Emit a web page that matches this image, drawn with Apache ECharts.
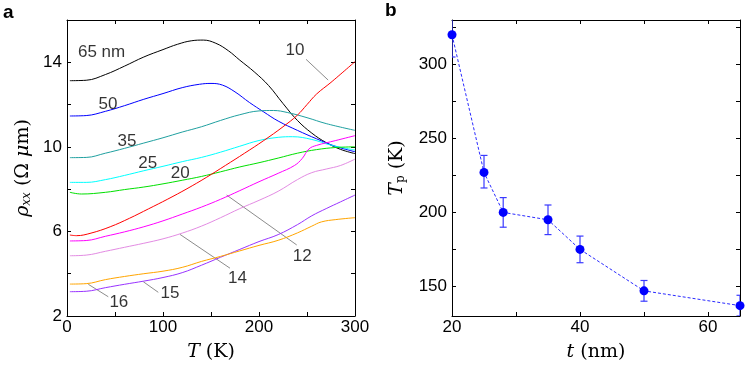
<!DOCTYPE html>
<html><head><meta charset="utf-8">
<script src="https://cdn.jsdelivr.net/npm/echarts@6/dist/echarts.min.js"></script>
<style>html,body{margin:0;padding:0;background:#fff}#c{width:747px;height:370px}</style>
</head><body><div id="c"></div>
<script>
// ---- Panel a: resistivity vs temperature, one curve per thickness ----
const thicknesses = ['65','50','35','25','20','10','12','14','15','16'];
const curveColors = ['#000000','#0000ff','#1fa0a0','#00ffff','#00e000','#ff0000','#ff00ff','#e38be3','#9933ff','#ffa500'];
const rho65 = [[3,13.13],[20,13.15],[40,13.42],[60,13.82],[80,14.25],[100,14.6],[115,14.85],[130,15.02],[142,15.05],[155,14.9],[168,14.55],[180,14.1],[195,13.55],[210,12.9],[225,12.05],[240,11.25],[255,10.65],[270,10.2],[285,9.88],[300,9.68]];
const rho50 = [[3,11.46],[20,11.48],[40,11.68],[60,11.95],[80,12.25],[100,12.52],[120,12.8],[138,12.96],[150,13.0],[162,12.92],[175,12.6],[190,12.1],[205,11.65],[220,11.22],[240,10.78],[260,10.38],[280,10.02],[300,9.77]];
const rho35 = [[3,9.49],[20,9.5],[40,9.7],[60,9.93],[80,10.18],[100,10.43],[120,10.7],[140,10.95],[160,11.25],[180,11.52],[200,11.7],[215,11.72],[230,11.62],[250,11.38],[270,11.1],[300,10.78]];
const rho25 = [[3,8.32],[20,8.32],[40,8.45],[60,8.65],[80,8.87],[100,9.08],[120,9.3],[140,9.5],[160,9.75],[180,10.03],[200,10.3],[220,10.45],[235,10.48],[255,10.35],[275,10.08],[300,9.85]];
const rho20 = [[3,7.85],[15,7.77],[40,7.85],[60,7.98],[80,8.1],[100,8.25],[120,8.42],[140,8.6],[160,8.82],[180,9.05],[200,9.25],[220,9.47],[240,9.7],[260,9.87],[280,9.97],[300,10.0]];
const rho10 = [[3,5.83],[10,5.8],[25,5.92],[45,6.22],[65,6.62],[85,7.07],[105,7.53],[125,8.02],[145,8.55],[165,9.12],[185,9.7],[205,10.3],[225,10.95],[240,11.5],[250,12.0],[260,12.5],[275,13.05],[300,14.03]];
const rho12 = [[3,5.55],[20,5.57],[40,5.77],[60,5.98],[80,6.22],[100,6.5],[120,6.82],[140,7.15],[160,7.52],[180,7.93],[200,8.35],[220,8.75],[237,9.12],[245,9.45],[252,9.9],[260,10.07],[280,10.3],[300,10.53]];
const rho14 = [[3,4.85],[20,4.88],[40,5.06],[60,5.25],[80,5.44],[100,5.65],[120,5.92],[140,6.25],[160,6.65],[180,7.08],[200,7.47],[220,7.9],[240,8.45],[255,8.78],[270,8.95],[285,9.12],[300,9.42]];
const rho15 = [[3,3.15],[20,3.17],[40,3.34],[60,3.5],[80,3.65],[100,3.82],[120,4.05],[140,4.4],[160,4.78],[180,5.15],[200,5.52],[220,5.85],[240,6.32],[255,6.74],[270,7.08],[285,7.4],[300,7.72]];
const rho16 = [[3,3.51],[20,3.53],[40,3.72],[60,3.87],[80,4.0],[100,4.12],[120,4.3],[140,4.58],[160,4.82],[180,5.08],[200,5.34],[220,5.58],[240,5.93],[255,6.25],[265,6.45],[280,6.56],[300,6.65]];
const curves = [rho65, rho50, rho35, rho25, rho20, rho10, rho12, rho14, rho15, rho16];

// curve labels [T, rho, text]
const curveLabels = [[36,14.49,'65 nm'],[42.7,12.03,'50'],[62.5,10.28,'35'],[84,9.21,'25'],[118,8.76,'20'],[237.5,14.58,'10'],[245,4.81,'12'],[177.6,3.77,'14'],[107.3,3.06,'15'],[54,2.64,'16']];
// leader lines [[T1,rho1],[T2,rho2]]
const leaders = [[[249,14.14],[272,13.16]],[[166.3,7.72],[239.3,5.36]],[[117.7,5.86],[169.8,4.26]],[[79.5,3.62],[95.1,3.12]],[[22.2,3.5],[43,2.91]]];
const rhoTickLabels = [2,6,10,14];
const TTickLabels = [0,100,200,300];

// ---- Panel b: peak temperature vs thickness ----
const tVals = [20,25,28,35,40,50,65];
const TpVals = [320,227,200,195,175,147,137];
const TpLow = [305,216.5,190,185,166,140,130];
const TpHigh = [335,238.5,210,205,184,154,144];
const tTickLabels = [20,40,60];
const TpTicks = [150,175,200,225,250,275,300,325];
const TpTickLabels = [150,200,250,300];

const serif = 'DejaVu Serif';
const sans = 'Liberation Sans';
const black = '#000';

function boxAxes(gridIndex, min, max, interval, isX, labelList, extra) {
  const base = {
    gridIndex, type:'value', min, max,
    axisLine:{show:true, onZero:false, lineStyle:{color:black, width:1}},
    axisTick:{show:true, inside:true, length:4, lineStyle:{color:black}},
    splitLine:{show:false},
    axisLabel:{show:!!labelList, color:black, fontFamily:sans, fontSize:17, margin:isX?3:5,
      showMinLabel:true, showMaxLabel:true,
      formatter: v => (labelList && labelList.indexOf(Math.round(v)) >= 0) ? String(Math.round(v)) : ''}
  };
  if (interval != null) base.interval = interval;
  return Object.assign(base, extra||{});
}

const chart = echarts.init(document.getElementById('c'));
const series = [];
curves.forEach((c,i)=>{
  series.push({type:'line', name:thicknesses[i], xAxisIndex:0, yAxisIndex:0, data:c, smooth:0.4,
    showSymbol:false, symbol:'none', lineStyle:{color:curveColors[i], width:1}, z:3, silent:true});
});
series.push({type:'lines', coordinateSystem:'cartesian2d', xAxisIndex:0, yAxisIndex:0,
  data: leaders.map(l=>({coords:l})), lineStyle:{color:'#8c8c8c', width:1, opacity:1}, z:2, silent:true});
series.push({type:'scatter', xAxisIndex:0, yAxisIndex:0, data:curveLabels, symbolSize:1,
  itemStyle:{color:'rgba(0,0,0,0)'}, z:5, silent:true,
  label:{show:true, position:'inside', formatter:p=>p.value[2], color:black, fontFamily:sans, fontSize:17}});

// panel b
series.push({type:'line', xAxisIndex:2, yAxisIndex:2, data:tVals.map((t,i)=>[t,TpVals[i]]),
  symbol:'circle', symbolSize:9, itemStyle:{color:'#0000ff'}, lineStyle:{color:'#2a2aff', width:1, type:[3,2]}, z:4, silent:true, clip:false});
series.push({type:'custom', xAxisIndex:2, yAxisIndex:2, z:3, silent:true,
  data: tVals.map((t,i)=>[t,TpLow[i],TpHigh[i]]),
  renderItem:function(params, api){
    const lo = api.coord([api.value(0), api.value(1)]);
    const hi = api.coord([api.value(0), api.value(2)]);
    const w = 3.5, st={stroke:'#3a3aff', lineWidth:1.2};
    const cs = params.coordSys;
    return {type:'group', clipPath:{type:'rect', shape:{x:cs.x, y:cs.y, width:cs.width, height:cs.height}}, children:[
      {type:'line', shape:{x1:lo[0],y1:lo[1],x2:hi[0],y2:hi[1]}, style:st},
      {type:'line', shape:{x1:lo[0]-w,y1:lo[1],x2:lo[0]+w,y2:lo[1]}, style:st},
      {type:'line', shape:{x1:hi[0]-w,y1:hi[1],x2:hi[0]+w,y2:hi[1]}, style:st}
    ]};
  }});

const nameStyle = {color:black, fontFamily:serif, fontSize:19,
  rich:{i:{fontStyle:'italic', fontFamily:serif, fontSize:19, color:black},
        n:{fontFamily:serif, fontSize:19, color:black},
        s:{fontStyle:'italic', fontFamily:serif, fontSize:12, color:black, padding:[8,0,0,0]},
        r:{fontFamily:serif, fontSize:12, color:black, padding:[8,0,0,0]}}};

const option = {
  animation:false,
  backgroundColor:'#fff',
  grid:[{left:67, top:20, width:288, height:296},{left:452, top:20, width:288, height:296}],
  xAxis:[
    boxAxes(0,0,300,50,true,TTickLabels,{position:'bottom', name:'{i|T} {n|(K)}', nameLocation:'middle', nameGap:27, nameTextStyle:nameStyle}),
    boxAxes(0,0,300,50,true,null,{position:'top'}),
    boxAxes(1,20,65,10,true,tTickLabels,{position:'bottom', name:'{i|t} {n|(nm)}', nameLocation:'middle', nameGap:27, nameTextStyle:nameStyle}),
    boxAxes(1,20,65,10,true,null,{position:'top'})
  ],
  yAxis:[
    boxAxes(0,2,16,2,false,rhoTickLabels,{position:'left', name:'{i|ρ}{s|xx} {n|(Ω }{i|μ}{n|m)}', nameLocation:'middle', nameGap:34, nameTextStyle:nameStyle}),
    boxAxes(0,2,16,2,false,null,{position:'right'}),
    (function(){const a=boxAxes(1,130,330,null,false,TpTickLabels,{position:'left', name:'{i|T}{r|p} {n|(K)}', nameLocation:'middle', nameGap:45, nameTextStyle:nameStyle});
      a.axisTick.customValues=TpTicks; a.axisLabel.customValues=TpTickLabels; return a;})(),
    (function(){const a=boxAxes(1,130,330,null,false,null,{position:'right'});
      a.axisTick.customValues=TpTicks; return a;})()
  ],
  graphic:[
    {type:'text', left:3, top:3, style:{text:'a', fontFamily:sans, fontWeight:'bold', fontSize:19, fill:black}},
    {type:'text', left:385, top:1, style:{text:'b', fontFamily:sans, fontWeight:'bold', fontSize:19, fill:black}}
  ],
  series
};
chart.setOption(option);
</script></body></html>
